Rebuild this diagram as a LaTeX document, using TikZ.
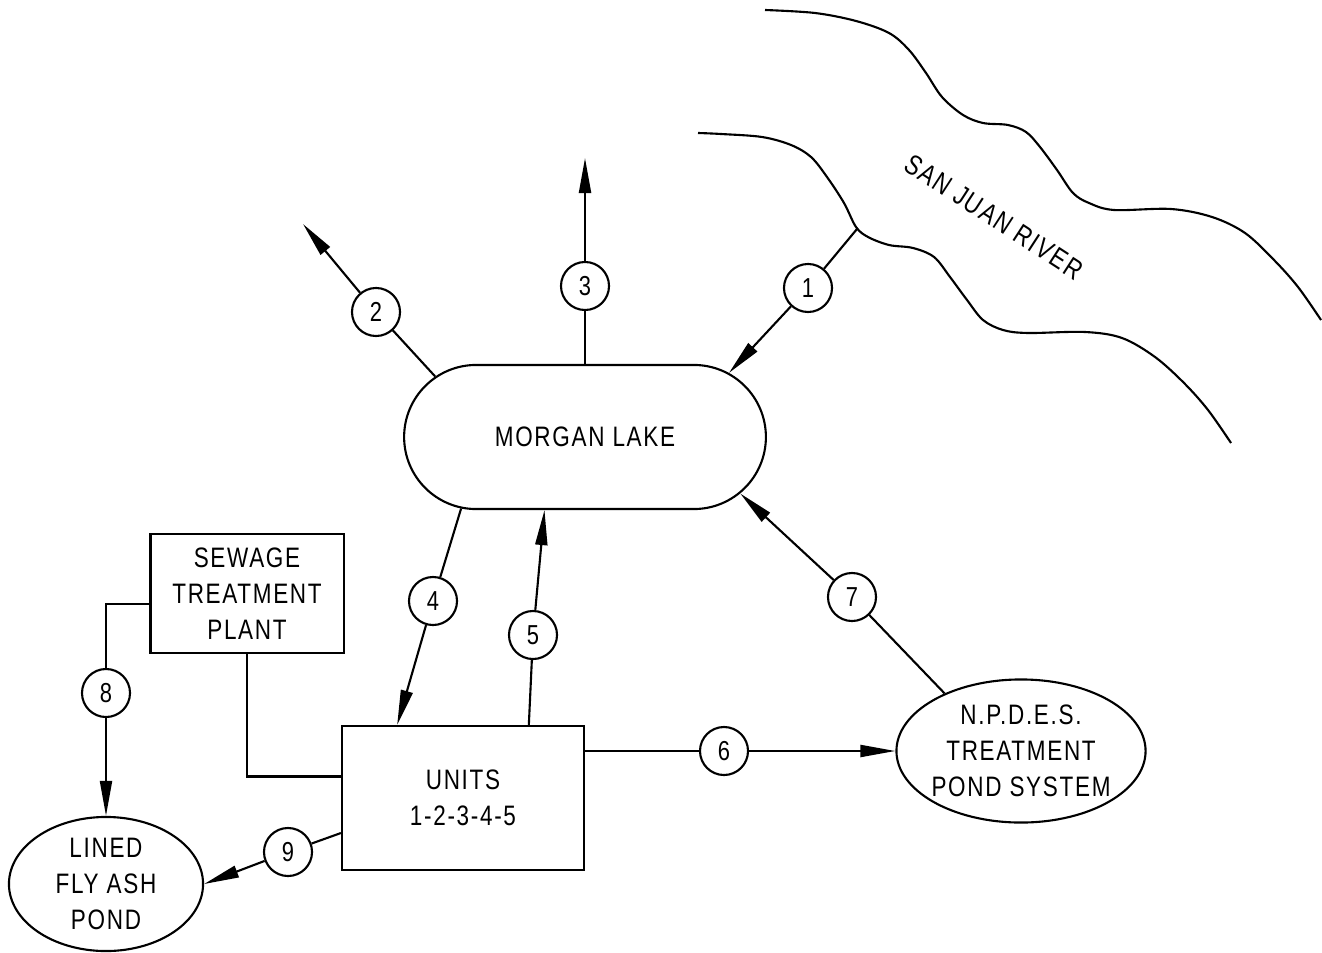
\documentclass[tikz,border=0pt]{standalone}
\usepackage{fontspec}
\setmainfont{Liberation Sans}[FakeStretch=0.8,LetterSpace=6]
\usepackage{tikz}
\usetikzlibrary{arrows.meta,shapes.misc,shapes.geometric}
\tikzstyle{lake} = [rounded rectangle, minimum width=3.85cm, minimum height=1.44cm, draw=black, line width=0.6pt, font=\fontsize{8}{10.24}\selectfont]
\tikzstyle{plant} = [rectangle, align=center, inner sep=0pt, draw=black, line width=0.6pt, font=\fontsize{8}{10.24}\selectfont]
\tikzstyle{pond} = [ellipse, align=center, inner sep=-2pt, draw=black, line width=0.6pt, font=\fontsize{8}{10.24}\selectfont]
\tikzstyle{num} = [circle, minimum size=0.48cm, inner sep=0pt, draw=black, line width=0.6pt, font=\fontsize{7.8}{9}\selectfont]
\tikzstyle{flow} = [line width=0.6pt]
\tikzstyle{arrow} = [line width=0.6pt,-{Triangle[length=3.5mm,width=1.2mm]}]
\tikzstyle{bank} = [line width=0.6pt]

\begin{document}
\begin{tikzpicture}[x=0.01cm,y=-0.01cm]
	\useasboundingbox (0,0) rectangle (1322,952);

	% river banks
	\draw [bank] plot [smooth, tension=0.55] coordinates {(765,10) (815,13) (856,21) (889,33) (909,50) (926,73) (942,97) (963,115) (983,123) (1008,125) (1026,132) (1040,147) (1057,170) (1073,193) (1089,203) (1114,210) (1171,209) (1212,217) (1245,233) (1274,260) (1298,287) (1321,320)};
	\draw [bank] plot [smooth, tension=0.55] coordinates {(698,133) (721,134) (762,137) (791,145) (811,157) (827,177) (844,203) (856,227) (868,237) (889,245) (913,248) (934,257) (950,277) (967,300) (983,320) (1003,330) (1028,333) (1085,332) (1122,338) (1155,357) (1184,383) (1208,410) (1231,443)};
	\node (river) [rotate=-33, font=\fontsize{8}{10.24}\selectfont] at (994,217) {SAN JUAN RIVER};

	\node (lake) [lake] at (585,437) {MORGAN LAKE};
	\node (sewage) [plant, minimum width=1.93cm, minimum height=1.19cm] at (247,593.5) {SEWAGE\\TREATMENT\\PLANT};
	\node (units) [plant, minimum width=2.42cm, minimum height=1.44cm] at (463,798) {UNITS\\1-2-3-4-5};
	\node (pond) [pond, minimum width=1.94cm, minimum height=1.34cm] at (106,884) {LINED\\FLY ASH\\POND};
	\node (npdes) [pond, minimum width=2.49cm, minimum height=1.43cm] at (1021,751) {N.P.D.E.S.\\TREATMENT\\POND SYSTEM};

	\node (c1) [num] at (808,288) {1};
	\node (c2) [num] at (376,312) {2};
	\node (c3) [num] at (585,286) {3};
	\node (c4) [num] at (433,601) {4};
	\node (c5) [num] at (533,635) {5};
	\node (c6) [num] at (724,751) {6};
	\node (c7) [num] at (852,597) {7};
	\node (c8) [num] at (106,693) {8};
	\node (c9) [num] at (288,852) {9};

	\coordinate (intake) at (857,229);
	\coordinate (out2) at (303,224);
	\coordinate (out3) at (585,158);

	\draw [flow] (intake) -- (c1);
	\draw [arrow] (c1) -- (lake.24);
	\draw [flow] (lake.158) -- (c2);
	\draw [arrow] (c2) -- (out2);
	\draw [flow] (lake.north) -- (c3);
	\draw [arrow] (c3) -- (out3);
	\draw [flow] (lake.210) -- (c4);
	\draw [arrow] (c4) -- (units.132.5);
	\draw [flow] (units.48.8) -- (c5);
	\draw [arrow] (c5) -- (lake.241);
	\draw [flow] (c6 -| units.east) -- (c6);
	\draw [arrow] (c6) -- (npdes);
	\draw [flow] (npdes.143.5) -- (c7);
	\draw [arrow] (c7) -- (lake.340);
	\draw [flow] (sewage.186) -| (c8);
	\draw [arrow] (c8) -- (pond);
	\draw [flow] (sewage) |- (units.170);
	\draw [flow] (units.196) -- (c9);
	\draw [arrow] (c9) -- (pond.east);

\end{tikzpicture}
\end{document}
